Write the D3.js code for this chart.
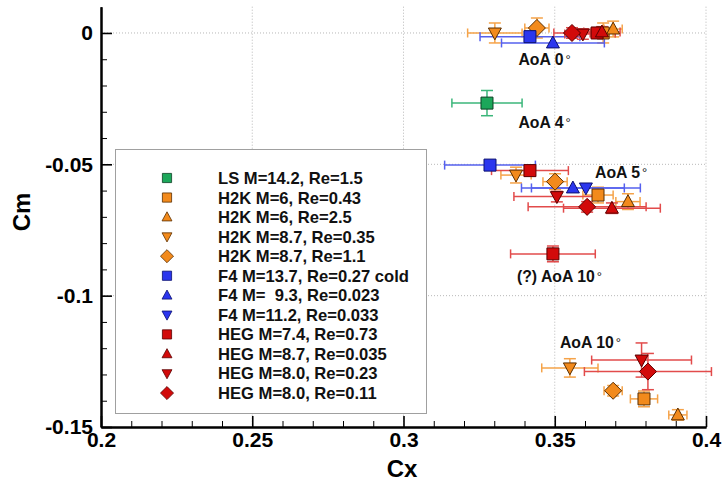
<!DOCTYPE html>
<html><head><meta charset="utf-8">
<script src="https://cdn.jsdelivr.net/npm/d3@7"></script>
<style>
body{margin:0;background:#fff;}
svg{display:block;font-family:"Liberation Sans",Arial,Helvetica,sans-serif;font-weight:bold;}
</style></head>
<body><svg id="c" width="723" height="483"></svg>
<script>
// ---- data ----
const seriesNames = [
  "LS M=14.2, Re=1.5",
  "H2K M=6, Re=0.43",
  "H2K M=6, Re=2.5",
  "H2K M=8.7, Re=0.35",
  "H2K M=8.7, Re=1.1",
  "F4 M=13.7, Re=0.27 cold",
  "F4 M=\u00a0 9.3, Re=0.023",
  "F4 M=11.2, Re=0.033",
  "HEG M=7.4, Re=0.73",
  "HEG M=8.7, Re=0.035",
  "HEG M=8.0, Re=0.23",
  "HEG M=8.0, Re=0.11"
];
const seriesShapes = ["square","square","up","down","diamond","square","up","down","square","up","down","diamond"];
const seriesFill   = ["#1ca75a","#f28a1c","#f28a1c","#f28a1c","#f28a1c","#2b36ee","#2b36ee","#2b36ee","#d20a0a","#d20a0a","#d20a0a","#d20a0a"];
const seriesErr    = ["#3bb67a","#f5a349","#f5a349","#f5a349","#f5a349","#5560ee","#5560ee","#5560ee","#e24b4b","#e24b4b","#e24b4b","#e24b4b"];
const seriesStroke = ["#0c4024","#5a2e00","#5a2e00","#5a2e00","#5a2e00","#0b1070","#0b1070","#0b1070","#5a0000","#5a0000","#5a0000","#5a0000"];

// points: [Cx, Cm, Cx error, Cm error]
const lsM142   = [[0.3276,-0.0267,0.0116,0.0048]];
const h2kM6a   = [[0.3660, 0.0000,0.0040,0.0038],[0.3643,-0.0617,0.0050,0.0030],[0.3795,-0.1393,0.0045,0.0030]];
const h2kM6b   = [[0.3693, 0.0015,0.0030,0.0030],[0.3742,-0.0642,0.0040,0.0030],[0.3907,-0.1454,0.0030,0.0020]];
const h2kM87a  = [[0.3302, 0.0000,0.0090,0.0038],[0.3372,-0.0541,0.0050,0.0030],[0.3550,-0.1275,0.0093,0.0035]];
const h2kM87b  = [[0.3441, 0.0019,0.0040,0.0038],[0.3501,-0.0566,0.0040,0.0030],[0.3693,-0.1362,0.0030,0.0020]];
const f4M137   = [[0.3418,-0.0014,0.0165,0.0000],[0.3286,-0.0503,0.0150,0.0000]];
const f4M93    = [[0.3494,-0.0038,0.0170,0.0000],[0.3560,-0.0590,0.0170,0.0000]];
const f4M112   = [[0.3603,-0.0590,0.0180,0.0000]];
const hegM74   = [[0.3640, 0.0000,0.0060,0.0020],[0.3418,-0.0524,0.0127,0.0020],[0.3494,-0.0841,0.0140,0.0030]];
const hegM87   = [[0.3656, 0.0004,0.0060,0.0020],[0.3689,-0.0667,0.0160,0.0020]];
const hegM80a  = [[0.3593,-0.0004,0.0060,0.0020],[0.3507,-0.0623,0.0142,0.0020],[0.3787,-0.1245,0.0165,0.0065]];
const hegM80b  = [[0.3557, 0.0000,0.0060,0.0020],[0.3607,-0.0662,0.0195,0.0020],[0.3808,-0.1289,0.0210,0.0069]];
const seriesPoints = [lsM142,h2kM6a,h2kM6b,h2kM87a,h2kM87b,f4M137,f4M93,f4M112,hegM74,hegM87,hegM80a,hegM80b];

const xTicks = [0.2,0.25,0.3,0.35,0.4];
const yTicks = [0,-0.05,-0.1,-0.15];
const xTickLabels = ["0.2","0.25","0.3","0.35","0.4"];
const yTickLabels = ["0","-0.05","-0.1","-0.15"];
const annotations = [
  {text:"AoA 0", cx:0.3380, cm:-0.0122},
  {text:"AoA 4", cx:0.3380, cm:-0.0362},
  {text:"AoA 5", cx:0.3633, cm:-0.0552},
  {text:"(?) AoA 10", cx:0.3375, cm:-0.0947},
  {text:"AoA 10", cx:0.3517, cm:-0.1199}
];

// ---- drawing ----
const svg = d3.select("#c");
const x = d3.scaleLinear().domain([0.2,0.4]).range([101,706]);
const y = d3.scaleLinear().domain([-0.15,0.01]).range([427,6.7]);

// grid
const grid = svg.append("g").attr("stroke","#b8b8b8").attr("stroke-width",1).attr("stroke-dasharray","1,2");
xTicks.slice(1).forEach(t=>grid.append("line").attr("x1",x(t)).attr("x2",x(t)).attr("y1",y(0.01)).attr("y2",y(-0.15)));
yTicks.slice(0,3).forEach(t=>grid.append("line").attr("x1",x(0.2)).attr("x2",x(0.4)).attr("y1",y(t)).attr("y2",y(t)));

// legend box (covers grid)
const lg = svg.append("g");
lg.append("rect").attr("x",115.5).attr("y",149.5).attr("width",311).attr("height",264)
  .attr("fill","#fff").attr("stroke","#a0a0a0").attr("stroke-width",1);

function shapePath(shape, r){
  if(shape==="square") return `M${-r},${-r}H${r}V${r}H${-r}Z`;
  if(shape==="up"){const h=r*1.15;return `M0,${-h}L${r*1.08},${h*0.72}L${-r*1.08},${h*0.72}Z`;}
  if(shape==="down"){const h=r*1.15;return `M0,${h}L${r*1.08},${-h*0.72}L${-r*1.08},${-h*0.72}Z`;}
  const d=r*1.42; return `M0,${-d}L${d},0L0,${d}L${-d},0Z`;
}

// error bars
const eb = svg.append("g").attr("fill","none").attr("stroke-width",1.5);
seriesPoints.forEach((pts,i)=>{
  pts.forEach(p=>{
    const g = eb.append("g").attr("stroke",seriesErr[i]);
    const px=x(p[0]), py=y(p[1]);
    if(p[2]>0){
      const x1=x(p[0]-p[2]), x2=x(p[0]+p[2]);
      g.append("line").attr("x1",x1).attr("x2",x2).attr("y1",py).attr("y2",py);
      g.append("line").attr("x1",x1).attr("x2",x1).attr("y1",py-4.5).attr("y2",py+4.5);
      g.append("line").attr("x1",x2).attr("x2",x2).attr("y1",py-4.5).attr("y2",py+4.5);
    }
    if(p[3]>0){
      const y1=y(p[1]+p[3]), y2=y(p[1]-p[3]);
      g.append("line").attr("x1",px).attr("x2",px).attr("y1",y1).attr("y2",y2);
      g.append("line").attr("x1",px-6).attr("x2",px+6).attr("y1",y1).attr("y2",y1);
      g.append("line").attr("x1",px-6).attr("x2",px+6).attr("y1",y2).attr("y2",y2);
    }
  });
});

// markers
const mk = svg.append("g");
seriesPoints.forEach((pts,i)=>{
  mk.selectAll(null).data(pts).enter().append("path")
    .attr("transform",d=>`translate(${x(d[0])},${y(d[1])})`)
    .attr("d",shapePath(seriesShapes[i],6))
    .attr("fill",seriesFill[i]).attr("stroke",seriesStroke[i]).attr("stroke-width",1);
});

// legend entries
seriesNames.forEach((n,i)=>{
  const yy = 178 + i*19.55;
  lg.append("path").attr("transform",`translate(167,${yy})`)
    .attr("d",shapePath(seriesShapes[i],4.6))
    .attr("fill",seriesFill[i]).attr("stroke",seriesStroke[i]).attr("stroke-width",0.8);
  lg.append("text").attr("x",218).attr("y",yy).attr("dy","0.36em")
    .attr("font-size",16.6).attr("fill","#111").text(n);
});

// annotations
annotations.forEach(a=>{
  const t = svg.append("text").attr("x",x(a.cx)).attr("y",y(a.cm)).attr("font-size",15.8).attr("fill","#111");
  t.append("tspan").text(a.text);
  t.append("tspan").attr("font-size",13).attr("font-weight","normal").attr("dx",2).attr("dy",-1).text("\u00b0");
});

// axes
const xAxis = d3.axisBottom(x).tickValues(xTicks).tickFormat((d,i)=>xTickLabels[i]).tickSize(-11).tickSizeOuter(0).tickPadding(5);
const xMinor = d3.axisBottom(x).tickValues(d3.range(21).map(k=>0.2+k*0.01).filter((v,k)=>k%5!==0)).tickFormat("").tickSize(-6).tickSizeOuter(0);
const yAxis = d3.axisLeft(y).tickValues(yTicks).tickFormat((d,i)=>yTickLabels[i]).tickSize(-11).tickSizeOuter(0).tickPadding(8);
const yMinor = d3.axisLeft(y).tickValues(d3.range(1,15).map(k=>-k*0.01).filter(v=>Math.round(v*100)%5!==0)).tickFormat("").tickSize(-6).tickSizeOuter(0);

function styleAxis(g){
  g.select(".domain").attr("stroke","#000").attr("stroke-width",2);
  g.selectAll(".tick line").attr("stroke","#000").attr("stroke-width",1.6);
  g.selectAll(".tick text").attr("font-size",21).attr("fill","#000")
    .attr("font-family","'Liberation Sans',Arial,sans-serif").attr("font-weight","bold");
}
svg.append("g").attr("transform","translate(0,427)").call(xMinor).call(styleAxis).selectAll(".tick line").attr("stroke-width",1);
svg.append("g").attr("transform","translate(101,0)").call(yMinor).call(styleAxis).selectAll(".tick line").attr("stroke-width",1);
svg.append("g").attr("transform","translate(0,427)").call(xAxis).call(styleAxis);
svg.append("g").attr("transform","translate(101,0)").call(yAxis).call(styleAxis);

// axis titles
svg.append("text").attr("x",402).attr("y",477).attr("text-anchor","middle").attr("font-size",24).attr("fill","#000").text("Cx");
svg.append("text").attr("transform","translate(30,212) rotate(-90)").attr("text-anchor","middle").attr("font-size",24).attr("fill","#000").text("Cm");
</script></body></html>
